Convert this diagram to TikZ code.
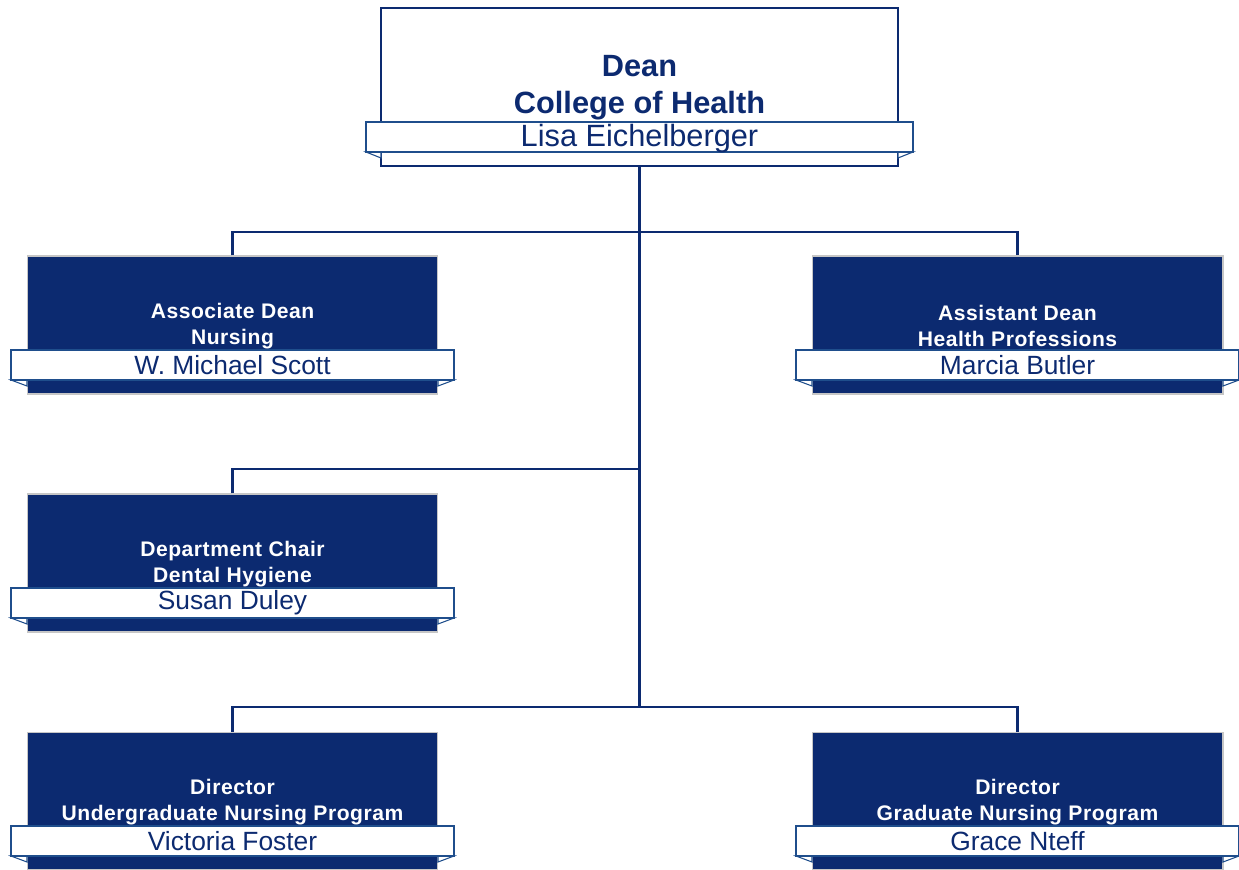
\documentclass[tikz,border=0pt]{standalone}
\usepackage{fontspec}
\setmainfont{Liberation Sans}
\newfontfamily\spacedsans[LetterSpace=2.5]{Liberation Sans}
\usepackage{xcolor}
\usepackage{tikz}
\usetikzlibrary{positioning}

\definecolor{navy}{RGB}{12,42,112}
\definecolor{bandblue}{RGB}{31,78,140}

\begin{document}
\begin{tikzpicture}[x=0.02cm, y=-0.02cm,
  deanbox/.style={draw=navy, line width=1pt, fill=white, minimum width=10.34cm, minimum height=3.16cm, inner sep=0pt},
  unitbox/.style={draw=gray!45, line width=0.6pt, fill=navy, minimum width=8.22cm, minimum height=2.76cm, inner sep=0pt},
  nameband/.style={draw=bandblue, line width=0.9pt, fill=white, minimum height=0.6cm, inner sep=0pt, text=navy},
  fold/.style={draw=bandblue, line width=0.6pt, fill=white},
  link/.style={draw=navy, line width=1.2pt},
  unittitle/.style={text=white, font=\spacedsans\fontsize{12}{14.8}\selectfont\bfseries, align=center}]

\useasboundingbox (0,0) rectangle (1239,869);
\clip (0,0) rectangle (1239,869);

% Dean
\node[deanbox] (dean) at (639.5,87) {};
\draw[fold] (366,152) -- (381,152) -- (381,158) -- cycle;
\draw[fold] (913,152) -- (898,152) -- (898,158) -- cycle;
\node[nameband, minimum width=10.94cm, text height=0.49cm, text depth=0.11cm, font=\fontsize{17.5}{21}\selectfont] (dean-band) at (639.5,137) {Lisa Eichelberger};
\node[text=navy, font=\fontsize{17.5}{21}\selectfont\bfseries, align=center] (dean-title) at (639.5,88) {Dean\\College of Health};

% Units
\foreach \nm/\x/\y/\role/\dept/\who in {
  adn/232.5/256/Associate Dean/Nursing/W. Michael Scott,
  ahp/1017.5/256/Assistant Dean/Health Professions/Marcia Butler,
  chair/232.5/494/Department Chair/Dental Hygiene/Susan Duley,
  ugn/232.5/732/Director/Undergraduate Nursing Program/Victoria Foster,
  gn/1017.5/732/Director/Graduate Nursing Program/Grace Nteff} {
  \node[unitbox] (\nm) at (\x,\y+69) {};
  \draw[fold] (\x-221.5,\y+124) -- (\x-205.5,\y+124) -- (\x-205.5,\y+130) -- cycle;
  \draw[fold] (\x+221.5,\y+124) -- (\x+205.5,\y+124) -- (\x+205.5,\y+130) -- cycle;
  \node[nameband, minimum width=8.86cm, font=\fontsize{15}{18}\selectfont] (\nm-band) at (\x,\y+109) {\who};
  \node[unittitle] (\nm-title) at (\x,\y+70) {\role\\\dept};
}

% Connectors
\coordinate (j1) at (639.5,232);
\coordinate (j2) at (639.5,469);
\coordinate (j3) at (639.5,707);
\draw[link] (dean.south) -- (j3);
\draw[link] (adn.north) |- (j1) -| (ahp.north);
\draw[link] (chair.north) |- (j2);
\draw[link] (ugn.north) |- (j3) -| (gn.north);

\end{tikzpicture}
\end{document}
